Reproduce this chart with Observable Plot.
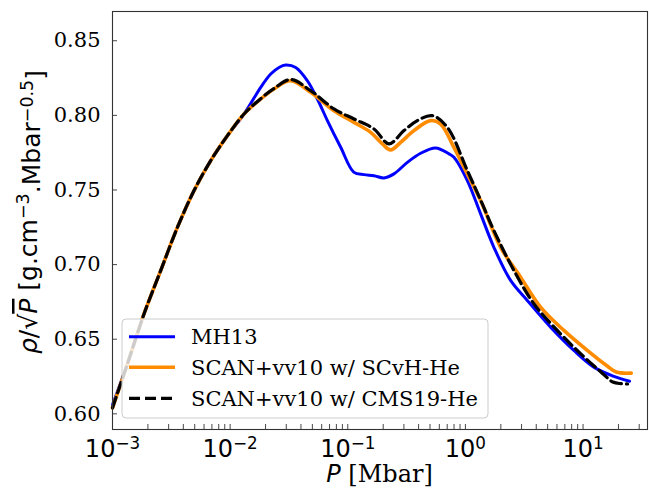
<!DOCTYPE html>
<html><head><meta charset="utf-8">
<script src="https://cdn.jsdelivr.net/npm/d3@7"></script>
<script src="https://cdn.jsdelivr.net/npm/@observablehq/plot@0.6"></script>
<style>
body{margin:0;background:#fff}
#chart{width:649px;height:489px}
</style>
</head><body><div id="chart"></div>
<script>
// Shared low-pressure branch (all three curves coincide here)
const commonP = [0.001, 0.001341, 0.001856, 0.002572, 0.003566, 0.004934, 0.006843, 0.009487, 0.013124];
const commonRho = [0.604, 0.6336, 0.6671, 0.6961, 0.7250, 0.7496, 0.7697, 0.7864, 0.8009];

// MH13
const mhP = [0.0182, 0.02213, 0.02603, 0.02968, 0.03608, 0.04536, 0.05515, 0.06709, 0.08704, 0.1129, 0.1373, 0.1670, 0.2030, 0.2469, 0.3209, 0.4163, 0.5580, 0.7243, 0.7985, 1.038, 1.346, 1.746, 2.421, 3.357, 5.296, 8.353, 12.35, 18.27, 24.83];
const mhRho = [0.8188, 0.8277, 0.8321, 0.8337, 0.8321, 0.8232, 0.8110, 0.7965, 0.7786, 0.7618, 0.7603, 0.7596, 0.7581, 0.7608, 0.7685, 0.7746, 0.7782, 0.7742, 0.7719, 0.7563, 0.7340, 0.7116, 0.6894, 0.6760, 0.6581, 0.6425, 0.6313, 0.6251, 0.6218];

// SCAN+vv10 w/ SCvH-He
const scvhP = [0.018197, 0.0236, 0.03272, 0.04839, 0.0763, 0.1129, 0.1565, 0.1968, 0.2314, 0.2814, 0.3651, 0.5062, 0.6157, 0.7985, 1.038, 1.346, 1.991, 2.944, 4.355, 6.870, 10.86, 15.74, 19.15, 25.67];
const scvhRho = [0.8110, 0.8177, 0.8232, 0.8154, 0.8031, 0.7953, 0.7886, 0.7809, 0.7768, 0.7819, 0.7898, 0.7965, 0.7942, 0.7786, 0.7608, 0.7429, 0.7116, 0.6916, 0.6715, 0.6559, 0.6425, 0.6325, 0.6280, 0.6273];

// SCAN+vv10 w/ CMS19-He
const cmsP = [0.018197, 0.0236, 0.03272, 0.04839, 0.0763, 0.1129, 0.1670, 0.2239, 0.3003, 0.3903, 0.5233, 0.7019, 1.038, 1.392, 1.746, 2.582, 3.818, 6.037, 9.524, 14.73, 17.91, 21.12, 23.9];
const cmsRho = [0.8112, 0.8180, 0.8240, 0.8165, 0.8043, 0.7976, 0.7909, 0.7809, 0.7898, 0.7965, 0.7998, 0.7920, 0.7630, 0.7407, 0.7228, 0.6961, 0.6738, 0.6559, 0.6403, 0.6269, 0.6213, 0.6202, 0.6200];

const seriesNames = ["MH13", "SCAN+vv10 w/ SCvH-He", "SCAN+vv10 w/ CMS19-He"];
const seriesColors = ["#0000ff", "#ff8c00", "#000000"];

const xMajor = [1e-3, 1e-2, 1e-1, 1e0, 1e1];
const xMinor = [];
for (const d of [1e-3, 1e-2, 1e-1, 1e0, 1e1]) for (let k = 2; k <= 9; k++) { const v = d * k; if (v <= 35) xMinor.push(v); }
const yTicks = [0.60, 0.65, 0.70, 0.75, 0.80, 0.85];

function build(P, R, first) {
  return commonP.map((p, i) => ({P: p, rho: i === 0 ? first : commonRho[i]}))
    .concat(P.map((p, i) => ({P: p, rho: R[i]})));
}
const mhData = build(mhP, mhRho, 0.606);
const scvhData = build(scvhP, scvhRho, 0.604);
const cmsData = build(cmsP, cmsRho, 0.604);

const W = 649, H = 489, mL = 112, mR = 2, mT = 11, mB = 60;
const frameW = W - mL - mR, frameH = H - mT - mB;

const plot = Plot.plot({
  width: W, height: H,
  marginLeft: mL, marginRight: mR, marginTop: mT, marginBottom: mB,
  style: {fontFamily: "DejaVu Serif", fontSize: "21px", background: "#fff", color: "#000"},
  x: {type: "log", domain: [1e-3, 35.3], label: null},
  y: {domain: [0.5895, 0.8696], label: null},
  marks: [
    Plot.line(mhData, {x: "P", y: "rho", stroke: seriesColors[0], strokeWidth: 3, curve: "catmull-rom"}),
    Plot.line(scvhData, {x: "P", y: "rho", stroke: seriesColors[1], strokeWidth: 3.6, curve: "catmull-rom"}),
    Plot.line(cmsData, {x: "P", y: "rho", stroke: seriesColors[2], strokeWidth: 3.2, strokeDasharray: "11,5", curve: "catmull-rom"}),
    Plot.tickX(xMajor.concat(xMinor), {x: d => d, insetTop: frameH - 5, stroke: "#333", strokeWidth: 0.9}),
    Plot.tickY(yTicks, {y: d => d, insetRight: frameW - 5, stroke: "#333", strokeWidth: 0.9}),
    Plot.axisY({ticks: yTicks, tickSize: 0, tickPadding: 12, tickFormat: d3.format(".2f"), fontSize: 21, label: null}),
    Plot.axisX({ticks: xMajor, tickSize: 0, tickPadding: 10, tickFormat: d => "E" + Math.round(Math.log10(d)), fontSize: 24, label: null}),
    Plot.frame({stroke: "#333", strokeWidth: 1.1})
  ]
});
document.getElementById("chart").appendChild(plot);

const svg = d3.select(plot);
// superscript tick labels 10^n
svg.selectAll('g[aria-label="x-axis tick label"] text').each(function() {
  const t = d3.select(this);
  const e = t.text().slice(1).replace("-", "\u2212");
  t.text("");
  t.style("font-family", "DejaVu Sans");
  t.append("tspan").text("10");
  t.append("tspan").attr("dy", "-0.45em").attr("font-size", "0.7em").text(e);
});

// y label
const yl = svg.append("text")
  .attr("transform", `translate(37,212) rotate(-90)`)
  .attr("text-anchor", "middle")
  .attr("font-family", "DejaVu Sans").attr("font-size", 25).attr("fill", "#000");
yl.append("tspan").attr("font-style", "italic").text("\u03c1");
yl.append("tspan").text("/\u221a");
yl.append("tspan").attr("font-style", "italic").attr("text-decoration", "overline").text("P");
yl.append("tspan").text(" [g.cm");
yl.append("tspan").attr("dy", "-0.45em").attr("font-size", "0.7em").text("\u22123");
yl.append("tspan").attr("dy", "0.45em").text(".Mbar");
yl.append("tspan").attr("dy", "-0.45em").attr("font-size", "0.7em").text("\u22120.5");
yl.append("tspan").attr("dy", "0.45em").text("]");

// x label
const xl = svg.append("text")
  .attr("x", mL + frameW / 2).attr("y", 482)
  .attr("text-anchor", "middle").attr("font-size", 24).attr("fill", "#000");
xl.append("tspan").attr("font-family", "DejaVu Sans").attr("font-style", "italic").text("P");
xl.append("tspan").attr("font-family", "DejaVu Serif").text(" [Mbar]");

// legend
const lg = svg.append("g").attr("aria-label", "legend");
lg.append("rect").attr("x", 122).attr("y", 319).attr("width", 366).attr("height", 99)
  .attr("rx", 4).attr("fill", "#fff").attr("fill-opacity", 0.8).attr("stroke", "#ccc").attr("stroke-width", 1);
const rowsY = [336.7, 367.3, 398.3];
const widths = [3, 3.6, 3.2];
seriesNames.forEach((name, i) => {
  const ln = lg.append("line").attr("x1", 129).attr("x2", 175).attr("y1", rowsY[i]).attr("y2", rowsY[i])
    .attr("stroke", seriesColors[i]).attr("stroke-width", widths[i]);
  if (i === 2) ln.attr("stroke-dasharray", "11,5");
  lg.append("text").attr("x", 191).attr("y", rowsY[i] + 7.5).attr("text-anchor", "start")
    .attr("font-family", "DejaVu Serif")
    .attr("font-size", 21).attr("fill", "#000").text(name);
});
</script>
</body></html>
